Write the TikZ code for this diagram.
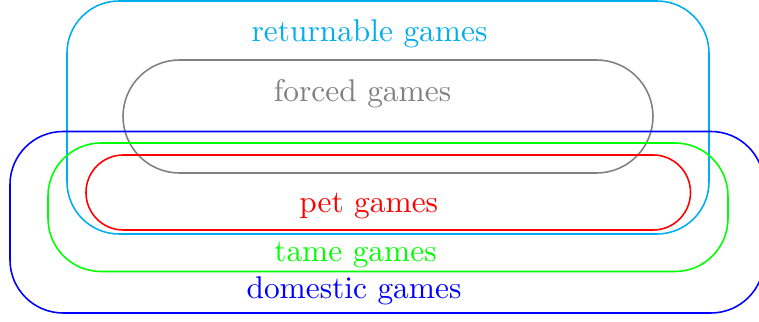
\documentclass[tikz,border=0pt]{standalone}
\usepackage{tikz}
\usepackage{xcolor}
\usetikzlibrary{calc}

\begin{document}
\begin{tikzpicture}[x=0.3185pt,y=-0.3185pt,line width=0.5pt]
\useasboundingbox (0,0) rectangle (759,322);


\draw[cyan,rounded corners=16.6pt] (67,1) rectangle (709,234);
\draw[gray,rounded corners=18pt] (123,60) rectangle (653,173);
\draw[blue,rounded corners=16.9pt] (10,131.5) rectangle (764,313);
\draw[green,rounded corners=16.9pt] (48,143) rectangle (728,271.5);
\draw[red,rounded corners=11.9pt] (86,155) rectangle (690.5,230);

\node[cyan,anchor=base] (returnable) at (369.5,41.7) {returnable games};
\node[gray,anchor=base] (forced) at (362.5,101.7) {forced games};
\node[red,anchor=base] (pet) at (368.7,213) {pet games};
\node[green,anchor=base] (tame) at (355.5,261.7) {tame games};
\node[blue,anchor=base] (domestic) at (354,298.3) {domestic games};
\end{tikzpicture}
\end{document}
